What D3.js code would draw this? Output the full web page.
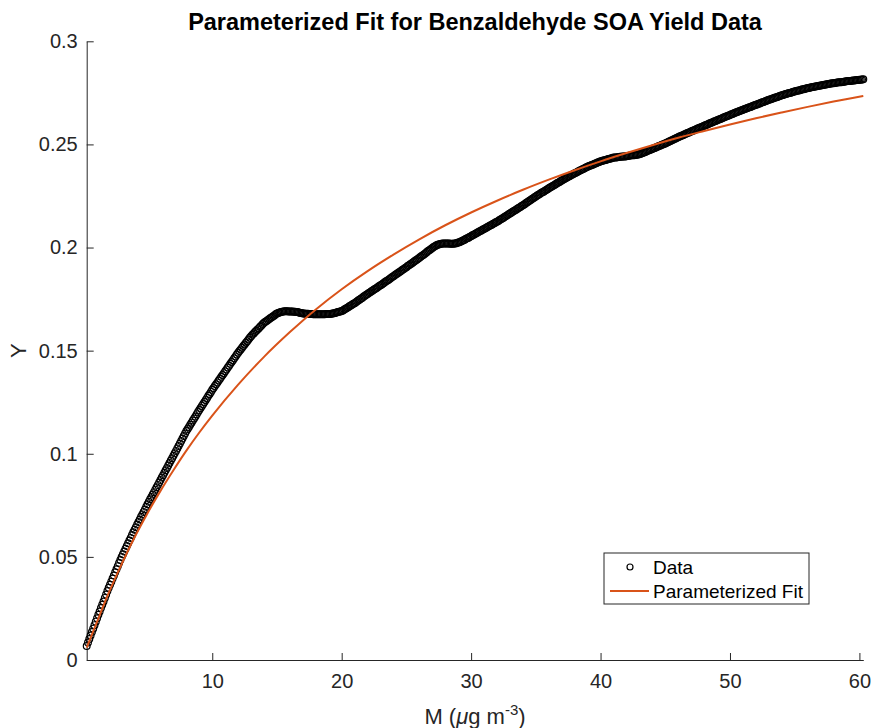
<!DOCTYPE html>
<head>
  <meta charset="utf-8">
  <script src="https://d3js.org/d3.v7.min.js"></script>
  <style>
    body { margin: 0; background: #fff; }
    svg { font-family: "Liberation Sans", Arial, Helvetica, sans-serif; }
    .axis text { font-size: 20px; fill: #262626; }
    .axis path, .axis line { stroke: #262626; stroke-width: 1px; }
    .dot { fill: none; stroke: #000; stroke-width: 1.2px; }
    .fit { fill: none; stroke: #D95319; stroke-width: 2px; }
  </style>
</head>

<body>
  <script>
    // M grid of the data: 0.3 to 60.3 by 0.1
    var mStart = 0.3, mStep = 0.1;

    var yieldData = [
      0.0068, 0.0085, 0.0102, 0.0119, 0.0136, 0.0152, 0.0169,
      0.0186, 0.0202, 0.0219, 0.0235, 0.0252, 0.0268, 0.0284, 0.0301, 0.0317, 0.0334,
      0.0350, 0.0365, 0.0380, 0.0395, 0.0410, 0.0425, 0.0440, 0.0455, 0.0470, 0.0485,
      0.0500, 0.0513, 0.0526, 0.0540, 0.0553, 0.0566, 0.0579, 0.0592, 0.0606, 0.0619,
      0.0632, 0.0644, 0.0657, 0.0669, 0.0681, 0.0694, 0.0706, 0.0718, 0.0730, 0.0743,
      0.0755, 0.0767, 0.0779, 0.0790, 0.0802, 0.0814, 0.0826, 0.0838, 0.0849, 0.0861,
      0.0873, 0.0885, 0.0896, 0.0908, 0.0920, 0.0931, 0.0943, 0.0955, 0.0967, 0.0978,
      0.0990, 0.1002, 0.1014, 0.1026, 0.1038, 0.1050, 0.1062, 0.1074, 0.1086, 0.1098,
      0.1110, 0.1120, 0.1130, 0.1141, 0.1151, 0.1161, 0.1171, 0.1181, 0.1192, 0.1202,
      0.1212, 0.1222, 0.1232, 0.1241, 0.1251, 0.1261, 0.1271, 0.1281, 0.1290, 0.1300,
      0.1310, 0.1319, 0.1328, 0.1337, 0.1346, 0.1355, 0.1364, 0.1373, 0.1382, 0.1391,
      0.1400, 0.1409, 0.1418, 0.1427, 0.1436, 0.1445, 0.1454, 0.1463, 0.1472, 0.1481,
      0.1490, 0.1498, 0.1506, 0.1514, 0.1522, 0.1530, 0.1538, 0.1546, 0.1554, 0.1562,
      0.1570, 0.1577, 0.1583, 0.1590, 0.1596, 0.1603, 0.1609, 0.1616, 0.1622, 0.1629,
      0.1635, 0.1640, 0.1644, 0.1649, 0.1653, 0.1658, 0.1662, 0.1667, 0.1671, 0.1676,
      0.1680, 0.1683, 0.1685, 0.1688, 0.1689, 0.1690, 0.1691, 0.1691, 0.1691, 0.1690,
      0.1690, 0.1690, 0.1690, 0.1689, 0.1689, 0.1688, 0.1687, 0.1685, 0.1683, 0.1682,
      0.1680, 0.1680, 0.1679, 0.1679, 0.1679, 0.1678, 0.1678, 0.1678, 0.1677, 0.1677,
      0.1677, 0.1677, 0.1677, 0.1677, 0.1677, 0.1677, 0.1677, 0.1677, 0.1678, 0.1678,
      0.1678, 0.1678, 0.1679, 0.1680, 0.1681, 0.1683, 0.1685, 0.1687, 0.1689, 0.1690,
      0.1692, 0.1695, 0.1699, 0.1703, 0.1707, 0.1711, 0.1715, 0.1719, 0.1723, 0.1727,
      0.1730, 0.1735, 0.1739, 0.1744, 0.1748, 0.1753, 0.1757, 0.1762, 0.1766, 0.1771,
      0.1775, 0.1779, 0.1783, 0.1788, 0.1792, 0.1796, 0.1800, 0.1804, 0.1809, 0.1813,
      0.1817, 0.1821, 0.1826, 0.1830, 0.1835, 0.1839, 0.1843, 0.1848, 0.1852, 0.1857,
      0.1861, 0.1865, 0.1870, 0.1874, 0.1879, 0.1883, 0.1887, 0.1892, 0.1896, 0.1901,
      0.1905, 0.1910, 0.1914, 0.1919, 0.1923, 0.1928, 0.1932, 0.1937, 0.1941, 0.1946,
      0.1950, 0.1955, 0.1960, 0.1964, 0.1969, 0.1974, 0.1979, 0.1984, 0.1988, 0.1993,
      0.1998, 0.2002, 0.2006, 0.2010, 0.2013, 0.2015, 0.2017, 0.2018, 0.2019, 0.2020,
      0.2020, 0.2020, 0.2019, 0.2019, 0.2018, 0.2018, 0.2018, 0.2019, 0.2020, 0.2022,
      0.2024, 0.2026, 0.2029, 0.2032, 0.2035, 0.2038, 0.2042, 0.2045, 0.2048, 0.2052,
      0.2055, 0.2059, 0.2062, 0.2066, 0.2069, 0.2073, 0.2076, 0.2080, 0.2083, 0.2087,
      0.2090, 0.2094, 0.2097, 0.2101, 0.2104, 0.2108, 0.2111, 0.2115, 0.2118, 0.2122,
      0.2125, 0.2129, 0.2133, 0.2137, 0.2141, 0.2145, 0.2149, 0.2153, 0.2157, 0.2161,
      0.2165, 0.2169, 0.2173, 0.2177, 0.2181, 0.2185, 0.2189, 0.2193, 0.2197, 0.2201,
      0.2205, 0.2209, 0.2214, 0.2218, 0.2222, 0.2227, 0.2231, 0.2235, 0.2239, 0.2244,
      0.2248, 0.2252, 0.2256, 0.2260, 0.2264, 0.2268, 0.2271, 0.2275, 0.2279, 0.2283,
      0.2287, 0.2291, 0.2295, 0.2298, 0.2302, 0.2306, 0.2310, 0.2314, 0.2317, 0.2321,
      0.2325, 0.2329, 0.2332, 0.2336, 0.2339, 0.2343, 0.2346, 0.2350, 0.2353, 0.2357,
      0.2360, 0.2363, 0.2366, 0.2370, 0.2373, 0.2376, 0.2379, 0.2382, 0.2386, 0.2389,
      0.2392, 0.2395, 0.2397, 0.2400, 0.2402, 0.2405, 0.2408, 0.2410, 0.2413, 0.2415,
      0.2418, 0.2420, 0.2422, 0.2423, 0.2425, 0.2427, 0.2429, 0.2431, 0.2432, 0.2434,
      0.2436, 0.2437, 0.2437, 0.2438, 0.2439, 0.2440, 0.2440, 0.2441, 0.2442, 0.2442,
      0.2443, 0.2444, 0.2445, 0.2446, 0.2447, 0.2448, 0.2448, 0.2449, 0.2450, 0.2451,
      0.2452, 0.2455, 0.2457, 0.2460, 0.2462, 0.2465, 0.2468, 0.2470, 0.2473, 0.2475,
      0.2478, 0.2481, 0.2483, 0.2486, 0.2489, 0.2492, 0.2494, 0.2497, 0.2500, 0.2502,
      0.2505, 0.2508, 0.2511, 0.2514, 0.2517, 0.2520, 0.2523, 0.2526, 0.2529, 0.2532,
      0.2535, 0.2538, 0.2541, 0.2543, 0.2546, 0.2549, 0.2552, 0.2555, 0.2557, 0.2560,
      0.2563, 0.2566, 0.2568, 0.2571, 0.2574, 0.2577, 0.2579, 0.2582, 0.2585, 0.2587,
      0.2590, 0.2593, 0.2595, 0.2598, 0.2601, 0.2604, 0.2606, 0.2609, 0.2612, 0.2614,
      0.2617, 0.2620, 0.2622, 0.2625, 0.2627, 0.2630, 0.2633, 0.2635, 0.2638, 0.2640,
      0.2643, 0.2646, 0.2648, 0.2651, 0.2653, 0.2656, 0.2658, 0.2661, 0.2663, 0.2666,
      0.2668, 0.2670, 0.2673, 0.2675, 0.2678, 0.2680, 0.2682, 0.2685, 0.2687, 0.2690,
      0.2692, 0.2694, 0.2697, 0.2699, 0.2702, 0.2704, 0.2706, 0.2709, 0.2711, 0.2714,
      0.2716, 0.2718, 0.2720, 0.2723, 0.2725, 0.2727, 0.2729, 0.2731, 0.2734, 0.2736,
      0.2738, 0.2740, 0.2742, 0.2744, 0.2746, 0.2748, 0.2749, 0.2751, 0.2753, 0.2755,
      0.2757, 0.2759, 0.2760, 0.2762, 0.2763, 0.2765, 0.2767, 0.2768, 0.2770, 0.2771,
      0.2773, 0.2774, 0.2776, 0.2777, 0.2778, 0.2780, 0.2781, 0.2782, 0.2783, 0.2785,
      0.2786, 0.2787, 0.2788, 0.2789, 0.2790, 0.2792, 0.2793, 0.2794, 0.2795, 0.2796,
      0.2797, 0.2798, 0.2799, 0.2800, 0.2801, 0.2802, 0.2802, 0.2803, 0.2804, 0.2805,
      0.2806, 0.2807, 0.2807, 0.2808, 0.2809, 0.2810, 0.2810, 0.2811, 0.2812, 0.2812,
      0.2813, 0.2814, 0.2815, 0.2816
    ];

    // parameterized fit curve, read at these M values
    var fitM = [0.3, 1, 2, 3, 4, 5, 6, 7, 8, 9, 10, 12, 14, 16, 18, 20, 22, 24, 26, 28,
                30, 32, 34, 36, 38, 40, 42, 44, 46, 48, 50, 52, 54, 56, 58, 60.3];
    var fitY = [0.0060, 0.0170, 0.0325, 0.0465, 0.0595, 0.0712, 0.0820, 0.0920, 0.1015,
                0.1103, 0.1185, 0.1335, 0.1470, 0.1590, 0.1700, 0.1798, 0.1886, 0.1966,
                0.2040, 0.2108, 0.2170, 0.2227, 0.2280, 0.2329, 0.2375, 0.2418, 0.2458,
                0.2496, 0.2532, 0.2565, 0.2597, 0.2627, 0.2655, 0.2682, 0.2708, 0.2735];

    var xTicks = [10, 20, 30, 40, 50, 60];
    var yTicks = [0, 0.05, 0.1, 0.15, 0.2, 0.25, 0.3];

    var width = 874, height = 728;
    var plot = { left: 86.7, right: 863.3, top: 41.3, bottom: 660 };

    var svg = d3.select("body").append("svg")
      .attr("width", width)
      .attr("height", height);

    var x = d3.scaleLinear()
      .domain([mStart, mStart + mStep * (yieldData.length - 1)])
      .range([plot.left, plot.right]);

    var y = d3.scaleLinear()
      .domain([0, 0.3])
      .range([plot.bottom, plot.top]);

    var points = yieldData.map(function(v, i) {
      return { m: mStart + i * mStep, y: v };
    });

    var fit = fitM.map(function(m, i) {
      return { m: m, y: fitY[i] };
    });

    // axes, ticks inward like matlab
    svg.append("g")
      .attr("class", "axis")
      .attr("transform", "translate(0," + plot.bottom + ")")
      .call(d3.axisBottom(x)
        .tickValues(xTicks)
        .tickSizeInner(-7)
        .tickSizeOuter(0)
        .tickPadding(14)
        .tickFormat(d3.format("d")));

    svg.append("g")
      .attr("class", "axis")
      .attr("transform", "translate(" + plot.left + ",0)")
      .call(d3.axisLeft(y)
        .tickValues(yTicks)
        .tickSizeInner(-7)
        .tickSizeOuter(0)
        .tickPadding(9)
        .tickFormat(function(d) { return String(d); }));

    svg.selectAll(".axis text").attr("font-family", null).attr("font-size", null);

    // data circles
    svg.append("g")
      .selectAll("circle")
      .data(points)
      .enter().append("circle")
      .attr("class", "dot")
      .attr("cx", function(d) { return x(d.m); })
      .attr("cy", function(d) { return y(d.y); })
      .attr("r", 3.4);

    var line = d3.line()
      .x(function(d) { return x(d.m); })
      .y(function(d) { return y(d.y); })
      .curve(d3.curveMonotoneX);

    svg.append("path")
      .datum(fit)
      .attr("class", "fit")
      .attr("d", line);

    // title and labels
    svg.append("text")
      .attr("x", (plot.left + plot.right) / 2)
      .attr("y", 30)
      .attr("text-anchor", "middle")
      .style("font-size", "23.5px")
      .style("font-weight", "bold")
      .text("Parameterized Fit for Benzaldehyde SOA Yield Data");

    svg.append("text")
      .attr("transform", "translate(26," + ((plot.top + plot.bottom) / 2) + ") rotate(-90)")
      .attr("text-anchor", "middle")
      .style("font-size", "22px")
      .style("fill", "#262626")
      .text("Y");

    var xlab = svg.append("text")
      .attr("x", (plot.left + plot.right) / 2)
      .attr("y", 724)
      .attr("text-anchor", "middle")
      .style("font-size", "22px")
      .style("fill", "#262626");
    xlab.append("tspan").text("M (");
    xlab.append("tspan").style("font-style", "italic").text("\u03bc");
    xlab.append("tspan").text("g m");
    xlab.append("tspan").attr("dy", -9).style("font-size", "15px").text("-3");
    xlab.append("tspan").attr("dy", 9).text(")");

    // legend
    var legend = svg.append("g");

    legend.append("rect")
      .attr("x", 604).attr("y", 553)
      .attr("width", 205).attr("height", 51)
      .attr("fill", "#fff")
      .attr("stroke", "#262626")
      .attr("stroke-width", 1);

    legend.append("circle")
      .attr("class", "dot")
      .attr("cx", 630).attr("cy", 567)
      .attr("r", 3);

    legend.append("line")
      .attr("class", "fit")
      .attr("x1", 610).attr("x2", 649)
      .attr("y1", 591).attr("y2", 591);

    legend.append("text")
      .attr("x", 653).attr("y", 573.5)
      .style("font-size", "19px")
      .text("Data");

    legend.append("text")
      .attr("x", 653).attr("y", 597.5)
      .style("font-size", "19px")
      .text("Parameterized Fit");
  </script>
</body>
